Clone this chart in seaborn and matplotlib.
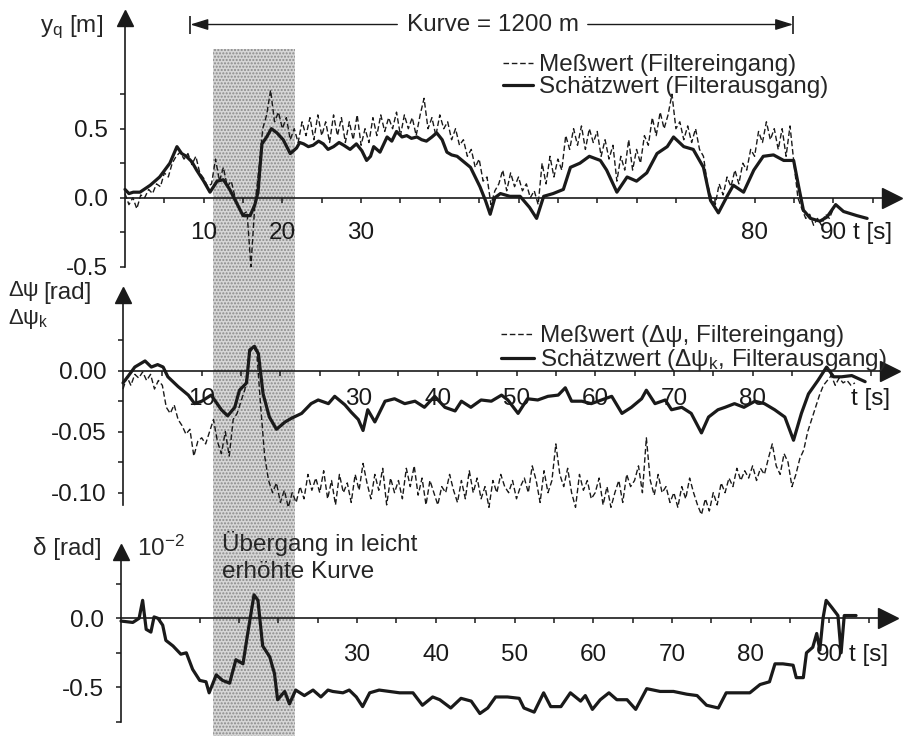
import numpy as np
import pandas as pd
import seaborn as sns
import matplotlib.pyplot as plt

# ---------------------------------------------------------------------------
# values
# ---------------------------------------------------------------------------
# panel 1: lateral offset y_q [m]
t_yq_mess = np.arange(0, 90.5, 0.5)
yq_mess = [0.03, -0.05, 0.0, -0.08, 0.02, 0.0, 0.06, 0.03, 0.1, 0.08,
           0.18, 0.15, 0.25, 0.3, 0.33, 0.28, 0.32, 0.24, 0.3, 0.18,
           0.14, 0.08, 0.1, 0.28, 0.12, 0.22, 0.08, 0.12, 0.0, -0.08,
           -0.12, -0.1, -0.5, -0.05, 0.2, 0.5, 0.6, 0.78, 0.55, 0.62,
           0.5, 0.58, 0.42, 0.5, 0.4, 0.55, 0.45, 0.58, 0.42, 0.6,
           0.45, 0.55, 0.4, 0.6, 0.45, 0.58, 0.4, 0.55, 0.42, 0.6,
           0.38, 0.5, 0.4, 0.58, 0.45, 0.6, 0.48, 0.58, 0.5, 0.62,
           0.45, 0.6, 0.5, 0.58, 0.45, 0.6, 0.72, 0.5, 0.58, 0.45,
           0.6, 0.5, 0.55, 0.42, 0.5, 0.38, 0.42, 0.3, 0.35, 0.22,
           0.28, 0.12, 0.15, -0.05, 0.05, 0.1, 0.2, 0.05, 0.18, 0.08,
           0.15, 0.05, 0.1, 0.0, 0.05, -0.05, 0.25, 0.1, 0.3, 0.15,
           0.28, 0.2, 0.45, 0.35, 0.5, 0.38, 0.52, 0.35, 0.5, 0.4,
           0.48, 0.3, 0.42, 0.28, 0.38, 0.12, 0.3, 0.2, 0.42, 0.2,
           0.35, 0.25, 0.45, 0.38, 0.58, 0.45, 0.62, 0.5, 0.6, 0.75,
           0.5, 0.55, 0.42, 0.52, 0.4, 0.5, 0.35, 0.3, 0.1, 0.0,
           -0.05, 0.1, 0.02, 0.15, 0.08, 0.2, 0.1, 0.25, 0.2, 0.35,
           0.3, 0.48, 0.4, 0.55, 0.42, 0.5, 0.35, 0.5, 0.3, 0.52,
           0.25, 0.0, -0.08, -0.15, -0.12, -0.2, -0.15, -0.2, -0.12, -0.15,
           -0.08]
t_yq_schaetz = [0, 0.5, 1.06, 1.9, 3.2, 4.4, 5.7, 6.6, 7.2, 7.8, 8.5, 9.1, 10, 10.8,
                11.7, 12.5, 13.3, 14.2, 15, 15.9, 16.5, 16.9, 17.4, 18, 18.6, 19.3,
                20.1, 21, 21.8, 22.2, 22.7, 23.3, 23.9, 24.6, 25.2, 25.8, 26.5, 27.2,
                27.8, 28.6, 29.4, 30.1, 30.7, 31.2, 31.6, 32.4, 33.3, 33.9, 34.5, 35.2,
                35.8, 36.4, 37.1, 37.7, 38.3, 39.0, 39.6, 40.3, 40.9, 41.5, 42.2, 43.9,
                45.1, 45.8, 46.4, 47.0, 47.7, 48.9, 50.2, 51.4, 52.3, 53.2, 54.4, 55.7,
                56.6, 57.8, 59.0, 60.4, 61.2, 62.5, 63.8, 65.0, 66.3, 67.6, 68.9, 69.7,
                71.0, 72.2, 73.5, 74.4, 75.4, 76.5, 77.3, 78.6, 79.9, 81.1, 82.4, 83.7,
                84.96, 85.6, 86.2, 87.1, 88.3, 89.2, 90.3, 91.3, 93.0, 94.3]
yq_schaetz = [0.06, 0.03, 0.04, 0.04, 0.09, 0.15, 0.25, 0.37, 0.32, 0.3, 0.26, 0.2, 0.12, 0.04,
              0.12, 0.13, 0.06, -0.04, -0.13, -0.13, -0.05, 0.04, 0.39, 0.44, 0.5, 0.47,
              0.42, 0.32, 0.36, 0.4, 0.39, 0.37, 0.38, 0.41, 0.39, 0.35, 0.37, 0.4,
              0.38, 0.35, 0.39, 0.34, 0.27, 0.3, 0.37, 0.33, 0.44, 0.41, 0.48, 0.44,
              0.45, 0.43, 0.44, 0.42, 0.41, 0.44, 0.47, 0.42, 0.33, 0.31, 0.30, 0.22,
              0.08, -0.02, -0.12, 0.0, 0.03, 0.01, 0.01, -0.07, -0.15, 0.01, 0.03, 0.06,
              0.22, 0.25, 0.30, 0.27, 0.20, 0.04, 0.15, 0.12, 0.18, 0.32, 0.37, 0.44,
              0.37, 0.35, 0.22, -0.02, -0.11, 0.01, 0.09, 0.04, 0.20, 0.30, 0.31, 0.27,
              0.27, 0.08, -0.09, -0.15, -0.17, -0.14, -0.05, -0.10, -0.13, -0.15]

# panel 2: heading error [rad]
t_dpsi_mess = np.arange(0, 93.5, 0.5)
dpsi_mess = [-0.015, -0.005, -0.012, -0.003, -0.006, -0.001, -0.008, -0.003, -0.015, -0.008,
             -0.012, -0.03, -0.035, -0.028, -0.04, -0.045, -0.052, -0.048, -0.07, -0.058,
             -0.055, -0.06, -0.05, -0.04, -0.058, -0.068, -0.05, -0.07, -0.04, -0.035,
             -0.025, -0.015, 0.012, 0.02, 0.015, -0.03, -0.07, -0.09, -0.1, -0.092,
             -0.108, -0.098, -0.112, -0.1, -0.108, -0.095, -0.105, -0.085, -0.098, -0.088,
             -0.1, -0.082, -0.105, -0.09, -0.11, -0.085, -0.1, -0.092, -0.108, -0.085,
             -0.098, -0.076, -0.092, -0.105, -0.085, -0.098, -0.08, -0.11, -0.088, -0.1,
             -0.09, -0.105, -0.08, -0.095, -0.078, -0.102, -0.088, -0.11, -0.09, -0.1,
             -0.11, -0.095, -0.1, -0.085, -0.098, -0.108, -0.09, -0.105, -0.082, -0.1,
             -0.088, -0.105, -0.095, -0.112, -0.09, -0.1, -0.085, -0.095, -0.1, -0.09,
             -0.105, -0.095, -0.088, -0.1, -0.078, -0.09, -0.108, -0.082, -0.1, -0.09,
             -0.06, -0.085, -0.095, -0.08, -0.1, -0.112, -0.085, -0.098, -0.09, -0.105,
             -0.1, -0.088, -0.11, -0.095, -0.112, -0.1, -0.09, -0.108, -0.085, -0.095,
             -0.09, -0.078, -0.1, -0.055, -0.09, -0.102, -0.085, -0.1, -0.095, -0.108,
             -0.1, -0.112, -0.095, -0.105, -0.088, -0.1, -0.11, -0.118, -0.105, -0.115,
             -0.1, -0.11, -0.092, -0.1, -0.088, -0.095, -0.08, -0.09, -0.082, -0.088,
             -0.078, -0.09, -0.08, -0.085, -0.072, -0.06, -0.078, -0.085, -0.068, -0.075,
             -0.095, -0.085, -0.072, -0.065, -0.05, -0.04, -0.03, -0.02, -0.012, -0.008,
             -0.004, -0.012, -0.006, -0.01, -0.008, -0.012, -0.01]
t_dpsi_schaetz = [0, 0.6, 1.5, 2.8, 3.6, 4.4, 5.1, 5.7, 7.0, 8.3, 9.1, 10, 11.2, 12.5, 13.3,
                  14.2, 14.8, 15.7, 16.1, 16.7, 17.2, 17.8, 18.6, 19.5, 20.6, 21.4, 22.7,
                  23.9, 24.8, 26.1, 26.9, 28.2, 29.0, 29.9, 30.5, 31.1, 32.0, 33.3, 34.5,
                  35.8, 37.1, 38.3, 39.6, 40.9, 42.2, 43.0, 44.2, 45.5, 46.8, 48.1, 48.9,
                  50.2, 51.4, 52.7, 54.0, 55.3, 56.2, 57.0, 58.3, 59.5, 60.8, 62.1, 63.4,
                  64.6, 65.9, 66.5, 67.6, 68.9, 69.7, 71.0, 72.2, 73.5, 74.4, 75.6, 76.5,
                  77.7, 78.9, 80.3, 81.5, 82.8, 84.1, 85.2, 86.2, 87.1, 88.3, 89.4, 90.3,
                  91.3, 92.6, 94.3]
dpsi_schaetz = [-0.010, -0.005, 0.003, 0.008, 0.003, 0.005, 0.003, -0.005, -0.013, -0.02,
                -0.027, -0.025, -0.02, -0.032, -0.037, -0.03, -0.016, -0.010, 0.017, 0.02,
                0.014, -0.019, -0.038, -0.048, -0.042, -0.039, -0.035, -0.027, -0.024,
                -0.027, -0.021, -0.028, -0.034, -0.040, -0.049, -0.032, -0.042, -0.025,
                -0.023, -0.027, -0.025, -0.030, -0.021, -0.030, -0.033, -0.025, -0.03,
                -0.024, -0.025, -0.02, -0.024, -0.035, -0.023, -0.024, -0.021, -0.02,
                -0.014, -0.025, -0.025, -0.027, -0.024, -0.021, -0.035, -0.03, -0.023,
                -0.016, -0.027, -0.024, -0.032, -0.03, -0.035, -0.051, -0.038, -0.032,
                -0.03, -0.027, -0.03, -0.025, -0.027, -0.032, -0.038, -0.057, -0.035,
                -0.019, -0.008, 0.003, -0.005, -0.005, -0.004, -0.009]

# panel 3: steering angle delta [1e-2 rad]
t_delta = [0, 1.5, 2.3, 2.75, 3.2, 3.8, 4.2, 4.7, 5.3, 5.7, 6.6, 7.6, 8.3, 9.1, 10.0, 10.8,
           11.2, 12.1, 12.9, 13.8, 14.6, 15.5, 16.1, 16.9, 17.4, 18.0, 18.9, 19.5, 19.9,
           20.8, 21.4, 22.2, 23.3, 24.4, 25.4, 26.3, 26.9, 28.2, 29.0, 29.9, 30.7, 31.6,
           32.8, 34.1, 35.4, 37.1, 38.3, 39.6, 40.5, 41.9, 43.2, 44.5, 45.6, 46.6, 47.6,
           49.1, 50.6, 51.2, 52.5, 53.7, 54.6, 55.9, 57.1, 58.4, 59.0, 59.9, 60.9, 62.0,
           63.0, 64.3, 65.4, 66.8, 68.5, 70.2, 71.9, 73.2, 74.4, 75.9, 76.9, 78.2, 79.9,
           81.2, 82.4, 83.1, 84.1, 85.4, 85.8, 86.7, 87.1, 87.9, 88.4, 88.8, 89.2, 89.6,
           90.3, 91.1, 91.5, 91.9, 93.4]
delta = [-0.02, -0.03, 0.0, 0.13, -0.08, -0.10, 0.01, 0.0, -0.05, -0.16, -0.2, -0.26, -0.25,
         -0.37, -0.45, -0.46, -0.54, -0.41, -0.45, -0.47, -0.30, -0.33, -0.11, 0.17, 0.13,
         -0.2, -0.28, -0.40, -0.59, -0.53, -0.62, -0.52, -0.56, -0.52, -0.57, -0.52, -0.53,
         -0.54, -0.52, -0.57, -0.64, -0.54, -0.52, -0.53, -0.54, -0.54, -0.63, -0.57, -0.59,
         -0.65, -0.58, -0.60, -0.69, -0.65, -0.57, -0.57, -0.58, -0.65, -0.68, -0.54, -0.64,
         -0.64, -0.54, -0.60, -0.56, -0.66, -0.59, -0.54, -0.59, -0.59, -0.66, -0.51, -0.53,
         -0.53, -0.55, -0.56, -0.63, -0.65, -0.54, -0.54, -0.54, -0.48, -0.46, -0.33, -0.33,
         -0.34, -0.43, -0.43, -0.25, -0.21, -0.11, -0.23, 0.0, 0.13, 0.08, 0.02, -0.25,
         0.02, 0.02]

kurve_start, kurve_end = 8.3, 84.9      # "Kurve = 1200 m"
uebergang = (11.2, 21.6)                # shaded transition

# ---------------------------------------------------------------------------
sns.set_theme(style='white')
plt.rcParams['font.family'] = ['Liberation Sans', 'DejaVu Sans']
plt.rcParams['mathtext.fontset'] = 'custom'
plt.rcParams['mathtext.rm'] = 'Liberation Sans'
plt.rcParams['mathtext.default'] = 'regular'
FS = 17.5

W, H = 905, 736
PX_PER_S = 7.87
T_MAX = 97.5
fig = plt.figure(figsize=(W / 100, H / 100), dpi=100)


def px_text(x, y, s, **kw):
    fig.text(x / W, 1 - y / H, s, fontsize=kw.pop('fontsize', FS), **kw)


def add_panel(left_px, zero_px, px_per_unit, ylim):
    bottom_px = zero_px - ylim[0] * px_per_unit
    top_px = zero_px - ylim[1] * px_per_unit
    ax = fig.add_axes([left_px / W, 1 - bottom_px / H,
                       T_MAX * PX_PER_S / W, (bottom_px - top_px) / H])
    ax.set_xlim(0, T_MAX)
    ax.set_ylim(*ylim)
    ax.patch.set_visible(False)
    ax.set_zorder(1)
    return ax


def style_panel(ax, xlabels, yticks, ylabels, xpad, ypad=8.5):
    for s in ['top', 'right']:
        ax.spines[s].set_visible(False)
    for s in ['bottom', 'left']:
        ax.spines[s].set_position(('data', 0))
        ax.spines[s].set_linewidth(1.2)
        ax.spines[s].set_color('k')
    xt = list(range(5, 100, 5))
    ax.set_xticks(xt, [xlabels.get(v, '') for v in xt])
    ax.set_yticks(yticks, ylabels)
    ax.tick_params(axis='x', direction='out', length=3.6, width=1.1,
                   pad=xpad, labelsize=FS, colors='k', bottom=True)
    ax.tick_params(axis='y', direction='out', length=3.6, width=1.1,
                   pad=ypad, labelsize=FS, colors='k', left=True)
    ax.set_xlabel('')
    ax.set_ylabel('')
    # axis arrows
    ax.plot(1, 0, '>', color='k', ms=15, transform=ax.get_yaxis_transform(), clip_on=False)
    ax.plot(0, 1, '^', color='k', ms=11, transform=ax.get_xaxis_transform(), clip_on=False)


def draw_pair(ax, t_m, v_m, lab_m, t_s, v_s, lab_s):
    sns.lineplot(x=t_m, y=v_m, ax=ax, color='k', lw=1.0, linestyle=(0, (4, 2)),
                 estimator=None, sort=False, label=lab_m, clip_on=False)
    sns.lineplot(x=t_s, y=v_s, ax=ax, color='k', lw=2.3,
                 estimator=None, sort=False, label=lab_s, clip_on=False)


# shaded "Übergang" strip behind all panels
bg = fig.add_axes([125 / W, 0, T_MAX * PX_PER_S / W, 1])
bg.set_xlim(0, T_MAX)
bg.set_ylim(0, 1)
bg.axis('off')
bg.set_zorder(0)
bg.axvspan(*uebergang, ymin=0, ymax=1 - 49 / H, facecolor='#d6d6d6',
           hatch='.....', edgecolor='#8a8a8a', lw=0)

# ---- panel 1 ---------------------------------------------------------------
ax1 = add_panel(125, 197.7, 138, (-0.5, 1.30))
draw_pair(ax1, t_yq_mess, yq_mess, 'Meßwert (Filtereingang)',
          t_yq_schaetz, yq_schaetz, 'Schätzwert (Filterausgang)')
style_panel(ax1, {10: '10', 20: '20', 30: '30', 80: '80', 90: '90', 95: 't [s]'},
            [-0.5, -0.25, 0, 0.25, 0.5, 0.75], ['-0.5', '', '0.0', '', '0.5', ''], xpad=14)
ax1.legend(loc='upper left', bbox_to_anchor=(503 / W, 1 - 54 / H),
           bbox_transform=fig.transFigure, frameon=False, fontsize=FS,
           borderpad=0, borderaxespad=0, handlelength=1.25, handletextpad=0.25,
           labelspacing=0.0)

# Kurve = 1200 m
yk = 1.255
ax1.text(46.7, yk, 'Kurve = 1200 m', ha='center', va='center', fontsize=FS)
ax1.annotate('', xy=(kurve_start, yk), xytext=(34.6, yk),
             arrowprops=dict(arrowstyle='-|>,head_length=0.9,head_width=0.28',
                             color='k', lw=1.0, shrinkA=0, shrinkB=0), annotation_clip=False)
ax1.annotate('', xy=(kurve_end, yk), xytext=(58.8, yk),
             arrowprops=dict(arrowstyle='-|>,head_length=0.9,head_width=0.28',
                             color='k', lw=1.0, shrinkA=0, shrinkB=0), annotation_clip=False)
ax1.plot([kurve_start, kurve_end], [yk, yk], '|', color='k', ms=13, mew=1.2, clip_on=False)

px_text(40, 27, '$y_q$ [m]', va='center', ha='left')

# ---- panel 2 ---------------------------------------------------------------
ax2 = add_panel(123, 370.7, 1220, (-0.11, 0.062))
draw_pair(ax2, t_dpsi_mess, dpsi_mess, 'Meßwert (Δψ, Filtereingang)',
          t_dpsi_schaetz, dpsi_schaetz, 'Schätzwert (Δψ$_k$, Filterausgang)')
style_panel(ax2, {10: '10', 30: '30', 40: '40', 50: '50', 60: '60', 70: '70', 80: '80',
                  95: 't [s]'},
            [-0.1, -0.075, -0.05, -0.025, 0, 0.025],
            ['-0.10', '', '-0.05', '', '0.00', ''], xpad=9)
ax2.legend(loc='upper left', bbox_to_anchor=(501 / W, 1 - 325 / H),
           bbox_transform=fig.transFigure, frameon=False, fontsize=FS,
           borderpad=0, borderaxespad=0, handlelength=1.35, handletextpad=0.25,
           labelspacing=0.0)

px_text(8, 291, 'Δψ', va='center', ha='left', fontsize=16)
px_text(8, 319, 'Δψ$_k$', va='center', ha='left', fontsize=16)
px_text(43, 293, '[rad]', va='center', ha='left')

# ---- panel 3 ---------------------------------------------------------------
ax3 = add_panel(121, 618.3, 138, (-0.75, 0.48))
sns.lineplot(x=t_delta, y=delta, ax=ax3, color='k', lw=2.3,
             estimator=None, sort=False, clip_on=False)
style_panel(ax3, {30: '30', 40: '40', 50: '50', 60: '60', 70: '70', 80: '80', 90: '90',
                  95: 't [s]'},
            [-0.75, -0.5, -0.25, 0, 0.25], ['', '-0.5', '', '0.0', ''], xpad=15)

px_text(33, 548, 'δ [rad]', va='center', ha='left')
px_text(137, 548, '10$^{-2}$', va='center', ha='left')
px_text(222, 543, 'Übergang in leicht', va='center', ha='left')
px_text(222, 572, 'erhöhte Kurve', va='center', ha='left')

fig.savefig('out.png', dpi=100)
